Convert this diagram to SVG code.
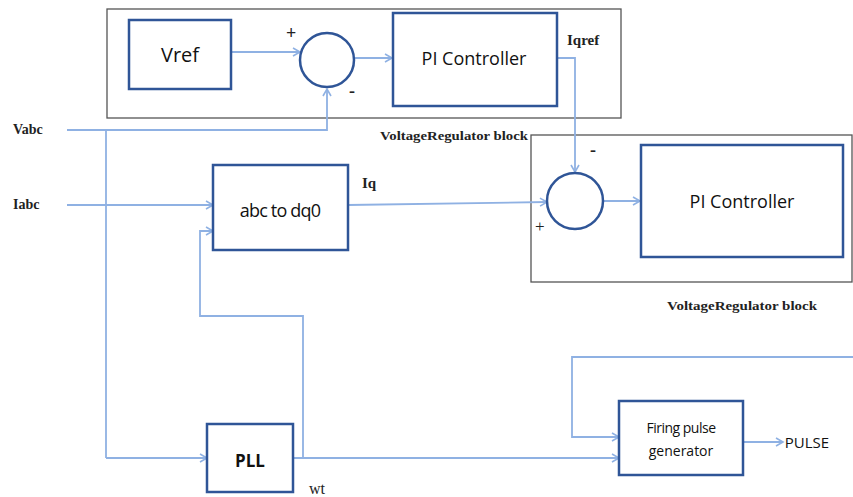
<svg xmlns="http://www.w3.org/2000/svg" width="853" height="497" viewBox="0 0 853 497">
<style>
.outer{fill:none;stroke:#555;stroke-width:1.3}
.blk{fill:#fff;stroke:#2f5597;stroke-width:2.5}
.sum{fill:#fff;stroke:#2f5597;stroke-width:2.5}
.wire{fill:none;stroke:#8fb1e3;stroke-width:1.8}
.arr{fill:none;stroke:#8fb1e3;stroke-width:1.8;marker-end:url(#ah)}
.bt{font-family:"Open Sans","Liberation Sans",sans-serif;fill:#111;text-anchor:middle;dominant-baseline:central}
.st{font-family:"Liberation Serif",serif;fill:#222}
</style>
<defs>
<marker id="ah" markerWidth="10" markerHeight="10" refX="8" refY="5" orient="auto" markerUnits="userSpaceOnUse">
<polyline points="1,1 8,5 1,9" fill="none" stroke="#8fb1e3" stroke-width="1.6"/>
</marker>
</defs>

<g id="vr-block-1">
<rect class="outer" x="107" y="9" width="514" height="109"/>
<text class="st" x="380" y="140" font-size="12" font-weight="bold" textLength="148" lengthAdjust="spacingAndGlyphs">VoltageRegulator block</text>
</g>
<g id="vr-block-2">
<rect class="outer" x="531" y="135" width="321" height="147"/>
<text class="st" x="667" y="310" font-size="12" font-weight="bold" textLength="150" lengthAdjust="spacingAndGlyphs">VoltageRegulator block</text>
</g>

<g id="connectors">
<path class="arr" d="M231,52 H300"/>
<path class="arr" d="M355,58 H392"/>
<path class="arr" d="M67,130 H327 V89"/>
<path class="wire" d="M106,130 V458"/>
<path class="arr" d="M106,458 H207"/>
<path class="arr" d="M557,58 H575 V172"/>
<path class="arr" d="M67,205 H213"/>
<path class="arr" d="M348,205 L547,202"/>
<path class="arr" d="M603,201 H640"/>
<path class="arr" d="M293,458 H619"/>
<path class="arr" d="M303,458 V316 H200 V231 H213"/>
<path class="arr" d="M853,357 H572 V437 H619"/>
<path class="arr" d="M743,442 H783"/>
</g>

<g id="vref">
<rect class="blk" x="129" y="20" width="102" height="69"/>
<text class="bt" x="180" y="54" font-size="20">Vref</text>
</g>
<g id="sum1">
<circle class="sum" cx="327" cy="60" r="27"/>
<text class="st" x="286" y="39" font-size="18" font-weight="bold">+</text>
<text class="st" x="349" y="97" font-size="18" font-weight="bold">-</text>
</g>
<g id="pi1">
<rect class="blk" x="393" y="13" width="164" height="93"/>
<text class="bt" x="474" y="58" font-size="18">PI Controller</text>
</g>
<text class="st" x="567" y="45" font-size="15" font-weight="bold">Iqref</text>

<g id="abc-dq0">
<rect class="blk" x="213" y="165" width="135" height="85"/>
<text class="bt" x="280" y="210" font-size="18" letter-spacing="-0.8">abc to dq0</text>
</g>
<text class="st" x="362" y="188" font-size="15" font-weight="bold">Iq</text>

<g id="sum2">
<circle class="sum" cx="575" cy="201" r="28"/>
<text class="st" x="590" y="156" font-size="18" font-weight="bold">-</text>
<text class="st" x="535" y="232" font-size="17">+</text>
</g>
<g id="pi2">
<rect class="blk" x="641" y="145" width="202" height="112"/>
<text class="bt" x="742" y="201" font-size="18">PI Controller</text>
</g>

<g id="pll">
<rect class="blk" x="207" y="424" width="86" height="68"/>
<text class="bt" x="250" y="460" font-size="17" font-weight="bold">PLL</text>
</g>
<text class="st" x="309" y="494" font-size="16">wt</text>

<g id="firing">
<rect class="blk" x="619" y="401" width="124" height="74"/>
<text class="bt" x="681" y="427" font-size="14" letter-spacing="-0.5">Firing pulse</text>
<text class="bt" x="681" y="450" font-size="14">generator</text>
</g>
<text class="bt" x="807" y="442" font-size="15">PULSE</text>

<text class="st" x="13" y="134" font-size="14" font-weight="bold">Vabc</text>
<text class="st" x="13" y="209" font-size="14" font-weight="bold">Iabc</text>
</svg>
